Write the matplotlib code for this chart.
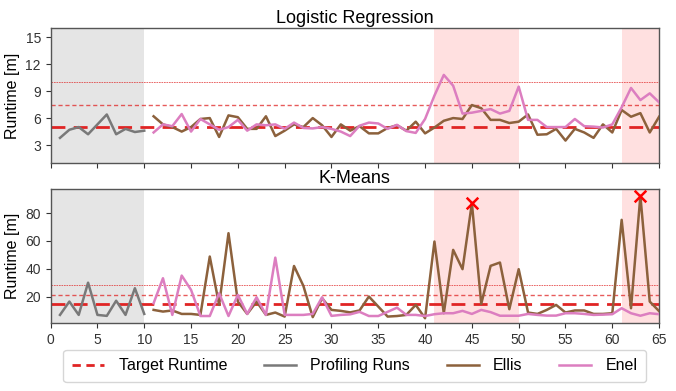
import matplotlib
matplotlib.use('Agg')
import matplotlib.pyplot as plt
import numpy as np

plt.rcParams['font.family'] = ['Liberation Sans', 'DejaVu Sans']

# runs 1-10 are profiling runs, 11-65 are adaptive runs
profiling_runs = list(range(1, 11))
adaptive_runs = list(range(11, 66))

# Logistic Regression runtimes in minutes
target_lr = 5.0
profiling_lr = [3.8, 4.7, 5.0, 4.2, 5.3, 6.4, 4.2, 4.8, 4.45, 4.6]
ellis_lr = [6.2, 5.3, 5.0, 4.5, 5.0, 5.9, 6.0, 3.9, 6.3, 6.1,
            4.8, 4.8, 6.2, 4.0, 4.6, 5.3, 5.0, 6.0, 5.2, 3.9,
            5.3, 4.6, 5.1, 4.3, 4.3, 4.9, 5.2, 4.6, 5.6, 4.3,
            4.95, 5.7, 6.0, 5.9, 7.45, 7.1, 5.8, 5.8, 5.45, 5.6,
            6.4, 4.15, 4.2, 4.8, 3.5, 4.8, 4.4, 3.8, 5.3, 4.4,
            6.9, 6.15, 6.55, 4.4, 6.15]
enel_lr = [4.4, 5.3, 5.1, 6.45, 4.5, 5.9, 5.3, 4.7, 5.0, 5.8,
           4.6, 5.3, 5.2, 5.3, 4.8, 5.5, 4.9, 4.85, 5.0, 4.8,
           4.5, 4.0, 5.15, 5.5, 5.4, 4.8, 5.25, 4.55, 4.35, 5.9,
           8.5, 10.8, 9.6, 6.5, 6.6, 6.8, 7.0, 6.5, 6.8, 9.5,
           5.8, 5.8, 5.0, 5.0, 5.0, 5.9, 5.1, 5.05, 4.95, 5.3,
           7.2, 9.35, 8.0, 8.75, 7.75]

# K-Means runtimes in minutes
target_km = 14.3
profiling_km = [6.8, 16.4, 6.8, 30.0, 6.8, 6.1, 17.0, 6.8, 26.0, 7.5]
ellis_km = [10.4, 9.2, 10.0, 7.5, 7.5, 6.8, 48.8, 14.0, 65.6, 16.4,
            7.5, 16.4, 6.8, 8.5, 5.6, 42.0, 27.7, 5.2, 18.8, 10.4,
            9.7, 8.6, 10.0, 20.0, 12.8, 5.6, 6.0, 6.8, 14.0, 4.4,
            59.6, 8.0, 53.6, 39.7, 87.2, 14.7, 42.1, 44.5, 10.9, 39.7,
            8.5, 7.5, 10.4, 14.0, 8.5, 10.0, 10.0, 7.5, 7.5, 8.0,
            75.2, 11.6, 92.5, 16.4, 9.5]
enel_km = [15.2, 33.2, 6.8, 35.1, 24.8, 6.0, 6.0, 22.4, 6.0, 21.2,
           7.5, 19.5, 6.8, 48.0, 6.8, 6.8, 6.8, 7.5, 19.5, 6.1,
           6.8, 7.2, 9.0, 6.0, 6.0, 9.0, 12.0, 6.8, 6.8, 6.0,
           7.3, 8.0, 8.0, 9.7, 7.5, 10.4, 8.8, 6.2, 6.2, 6.2,
           7.5, 6.8, 6.3, 6.3, 8.0, 8.0, 7.5, 6.8, 7.0, 7.3,
           11.6, 8.0, 6.2, 8.0, 7.3]
failed_km = [45, 63]  # runs marked with an x

# runs with changed input data (shaded red)
change_spans = [(41, 50), (61, 66)]

red = '#e02424'
gray = '#797979'
brown = '#8c613c'
pink = '#dc7ec0'

fig = plt.figure(figsize=(6.76, 3.91), dpi=100)
ax1 = fig.add_axes([0.0749, 0.583, 0.9001, 0.345])
ax2 = fig.add_axes([0.0749, 0.174, 0.9001, 0.343])

panels = [(ax1, 'Logistic Regression', target_lr, profiling_lr, ellis_lr, enel_lr),
          (ax2, 'K-Means', target_km, profiling_km, ellis_km, enel_km)]

for ax, title, target, prof, ellis, enel in panels:
    ax.axvspan(0, 10, color='gray', alpha=0.2, lw=0, zorder=0)
    for a, b in change_spans:
        ax.axvspan(a, b, color='red', alpha=0.12, lw=0, zorder=0)
    ax.axhline(target, color=red, ls=(0, (5, 3)), lw=2.0, zorder=1)
    ax.axhline(target * 1.5, color=red, ls=(0, (3, 2)), lw=1.0, alpha=0.75, zorder=1)
    ax.axhline(target * 2, color=red, ls=(0, (2, 1)), lw=0.6, alpha=0.8, zorder=1)
    ax.plot(profiling_runs, prof, color=gray, lw=1.8, zorder=2)
    ax.plot(adaptive_runs, ellis, color=brown, lw=1.8, zorder=3)
    ax.plot(adaptive_runs, enel, color=pink, lw=1.8, zorder=3)
    ax.set_title(title, fontsize=13, pad=4)
    ax.set_ylabel('Runtime [m]', fontsize=11.5)
    ax.set_xlim(0, 65)
    ax.set_xticks(np.arange(0, 66, 5))
    ax.tick_params(labelsize=10, length=3.5, width=0.8, colors='#333333')
    for s in ax.spines.values():
        s.set_color('#555555')
        s.set_linewidth(1.0)

ellis_arr = np.array(ellis_km)
fail_idx = [adaptive_runs.index(r) for r in failed_km]
ax2.scatter(failed_km, ellis_arr[fail_idx], marker='x', color='red', s=70, lw=1.8, zorder=5)

ax1.set_ylim(1, 16)
ax1.set_yticks([3, 6, 9, 12, 15])
ax1.tick_params(labelbottom=False)
ax2.set_ylim(1, 97.5)
ax2.set_yticks([20, 40, 60, 80])

handles = [plt.Line2D([], [], color=red, ls=(0, (3, 2)), lw=2.0),
           plt.Line2D([], [], color=gray, lw=1.8),
           plt.Line2D([], [], color=brown, lw=1.8),
           plt.Line2D([], [], color=pink, lw=1.8)]
labels = ['Target Runtime', 'Profiling Runs', 'Ellis', 'Enel']
fig.legend(handles, labels, loc='center', bbox_to_anchor=(0.525, 0.064), ncol=4,
           fontsize=11.5, handlelength=2.0, handletextpad=0.9, columnspacing=2.3,
           borderpad=0.55, frameon=True, edgecolor='#cccccc', fancybox=True)

plt.savefig('out.png', dpi=100)
